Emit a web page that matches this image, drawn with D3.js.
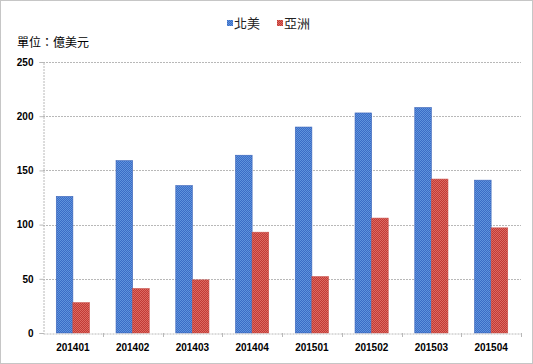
<!DOCTYPE html>
<html><head><meta charset="utf-8">
<script src="https://cdn.jsdelivr.net/npm/d3@7"></script>
<style>
html,body{margin:0;padding:0;background:#fff;}
svg{display:block;font-family:"Liberation Sans",Arial,sans-serif;}
</style></head>
<body><svg id="c" width="533" height="364"></svg>
<script>
const categories = ["201401","201402","201403","201404","201501","201502","201503","201504"];
const northAmerica = [126,159,136,164,190,203,208,141];
const asia = [28,41,49,93,52,106,142,97];
const seriesNames = ["北美","亞洲"];
const yTicks = [0,50,100,150,200,250];

const svg = d3.select("#c");
const W=533,H=364;
const m={l:43,r:12,t:62,b:31};
const defs = svg.append("defs");
function pat(id,c1,c2){
  const p=defs.append("pattern").attr("id",id).attr("width",2).attr("height",2).attr("patternUnits","userSpaceOnUse");
  p.append("rect").attr("width",2).attr("height",2).attr("fill",c1);
  p.append("rect").attr("width",1).attr("height",1).attr("fill",c2);
  p.append("rect").attr("x",1).attr("y",1).attr("width",1).attr("height",1).attr("fill",c2);
}
pat("pb","#3b6cc6","#5f93dc");
pat("pr","#c23a34","#dc6a63");
const fills=["url(#pb)","url(#pr)"];
const strokes=["#3a63b8","#c9504a"];

svg.append("rect").attr("x",0.5).attr("y",0.5).attr("width",W-1).attr("height",H-1)
  .attr("fill","#fff").attr("stroke","#8c8c8c").attr("stroke-dasharray","1,1");

const x = d3.scaleBand().domain(categories).range([m.l,W-m.r]).paddingInner(0).paddingOuter(0);
const y = d3.scaleLinear().domain([0,250]).range([H-m.b,m.t]);
const inner = d3.scaleBand().domain([0,1]).range([0,x.bandwidth()]).paddingInner(0).paddingOuter(0.4*1.0/1);
// group width = band/1.8
const gw = x.bandwidth()/1.8, off=(x.bandwidth()-gw)/2, bw=gw/2;

// gridlines
svg.append("g").selectAll("line").data(yTicks.filter(d=>d>0)).join("line")
  .attr("x1",m.l).attr("x2",W-m.r).attr("y1",d=>Math.round(y(d))+0.5).attr("y2",d=>Math.round(y(d))+0.5)
  .attr("stroke","#b8b8b8").attr("stroke-dasharray","2,1");

// y axis
const ya = svg.append("g").attr("transform",`translate(${m.l+0.5},0)`)
  .call(d3.axisLeft(y).tickValues(yTicks).tickSize(4).tickPadding(6));
ya.select(".domain").attr("stroke","#b8b8b8").attr("stroke-dasharray","2,1");
ya.selectAll(".tick line").attr("stroke","#b8b8b8");
ya.selectAll("text").attr("font-size","10px").attr("font-weight","bold").attr("fill","#000");

// bars
const data=[northAmerica,asia];
data.forEach((arr,si)=>{
  svg.append("g").selectAll("rect").data(categories).join("rect")
    .attr("x",(c)=>x(c)+off+si*bw).attr("width",bw)
    .attr("y",(c,i)=>y(arr[i])).attr("height",(c,i)=>y(0)-y(arr[i]))
    .attr("fill",fills[si]).attr("stroke",strokes[si]).attr("stroke-width",0.6);
});

// x axis
const xa = svg.append("g").attr("transform",`translate(0,${y(0)+0.5})`)
  .call(d3.axisBottom(x).tickSize(0).tickPadding(10));
xa.select(".domain").attr("stroke","#b8b8b8").attr("stroke-dasharray","2,1");
xa.selectAll("text").attr("font-size","10px").attr("font-weight","bold").attr("fill","#000");
svg.append("g").selectAll("line").data(categories.slice(1).concat(["__end"])).join("line")
  .attr("x1",(c,i)=>Math.round(m.l+x.bandwidth()*(i+1))+0.5).attr("x2",(c,i)=>Math.round(m.l+x.bandwidth()*(i+1))+0.5)
  .attr("y1",y(0)).attr("y2",y(0)+4).attr("stroke","#b8b8b8");

// unit label
svg.append("text").attr("x",17).attr("y",47).attr("font-size","12px")
  .attr("font-family","Noto Sans CJK TC").attr("fill","#000").text("單位：億美元");

// legend
const lg = svg.append("g");
const lx=[227,277];
seriesNames.forEach((n,i)=>{
  lg.append("rect").attr("x",lx[i]).attr("y",20).attr("width",6).attr("height",6).attr("fill",fills[i]);
  lg.append("text").attr("x",lx[i]+7).attr("y",28).attr("font-size","13px")
    .attr("font-family","Noto Sans CJK TC").attr("fill","#222").text(n);
});
</script></body></html>
